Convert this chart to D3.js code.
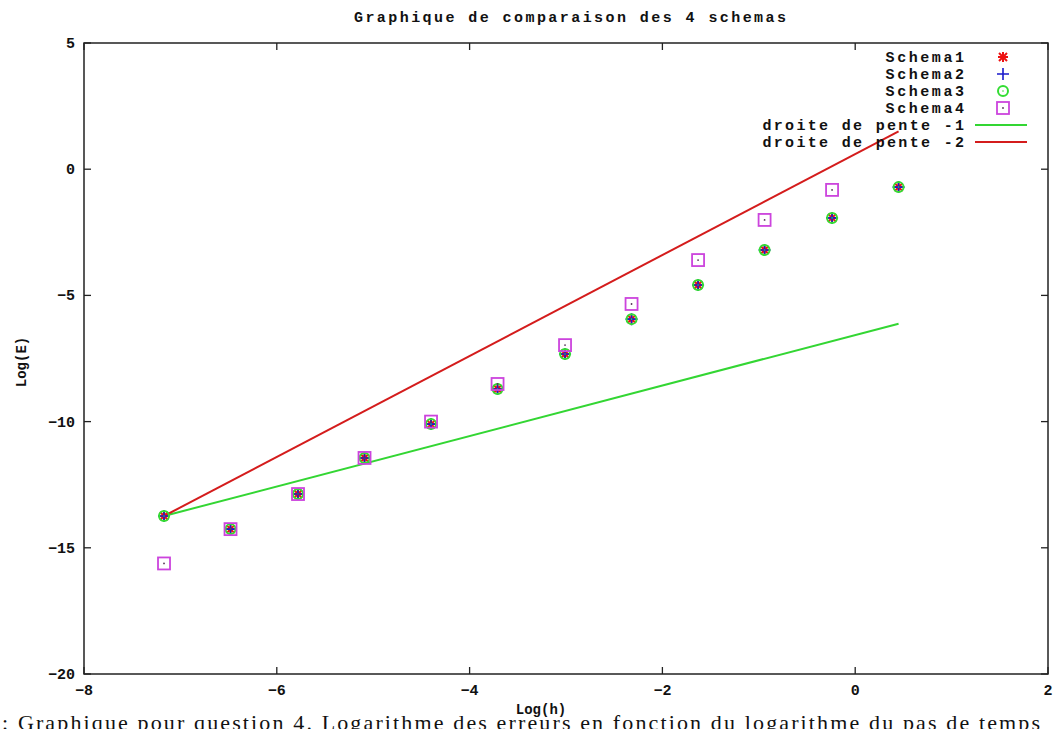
<!DOCTYPE html>
<html lang="fr">
<head>
  <meta charset="UTF-8">
  <title>Graphique de comparaison des 4 schemas</title>
  <style>
    body { margin: 0; background: #fff; }
    svg { display: block; }
    .mono { font-family: 'Liberation Mono', 'DejaVu Sans Mono', monospace; font-weight: bold; fill: #111; }
    .caption { font-family: 'Liberation Serif', 'DejaVu Serif', serif; fill: #111; }
  </style>
  <script src="https://d3js.org/d3.v7.min.js"></script>
</head>
<body>
  <svg id="chart" width="1055" height="729"></svg>
  <script>
    // log(h) for each run
    const logH = [-7.17, -6.48, -5.78, -5.09, -4.40, -3.71, -3.01, -2.32, -1.63, -0.94, -0.24, 0.45];
    // log(E)
    const schema1 = [-13.74, -14.26, -12.87, -11.44, -10.10, -8.71, -7.32, -5.94, -4.59, -3.20, -1.93, -0.71];
    const schema2 = [-13.74, -14.26, -12.87, -11.44, -10.10, -8.71, -7.32, -5.94, -4.59, -3.20, -1.93, -0.71];
    const schema3 = [-13.74, -14.26, -12.87, -11.44, -10.10, -8.71, -7.32, -5.94, -4.59, -3.20, -1.93, -0.71];
    const schema4 = [-15.62, -14.26, -12.87, -11.44, -10.00, -8.51, -6.97, -5.34, -3.60, -2.01, -0.82];
    // reference lines
    const lineX = [-7.17, 0.45];
    const pente1 = [-13.74, -6.12];
    const pente2 = [-13.74, 1.50];
    const xTicks = [-8, -6, -4, -2, 0, 2];
    const yTicks = [5, 0, -5, -10, -15, -20];

    const svg = d3.select("#chart");
    const pl = 84, pr = 1048, pt = 43, pb = 674;
    const x = d3.scaleLinear().domain([-8, 2]).range([pl, pr]);
    const y = d3.scaleLinear().domain([-20, 5]).range([pb, pt]);

    // title
    svg.append("text").attr("class", "mono")
      .attr("x", 570).attr("y", 22).attr("text-anchor", "middle")
      .attr("font-size", 15).attr("textLength", 432).attr("lengthAdjust", "spacing")
      .text("Graphique de comparaison des 4 schemas");

    // ticks, gnuplot style: inside, mirrored
    const tk = 7;
    const g = svg.append("g").attr("stroke", "#222").attr("stroke-width", 1.3);
    xTicks.forEach(v => {
      g.append("line").attr("x1", x(v)).attr("x2", x(v)).attr("y1", pb).attr("y2", pb - tk);
      g.append("line").attr("x1", x(v)).attr("x2", x(v)).attr("y1", pt).attr("y2", pt + tk);
    });
    yTicks.forEach(v => {
      g.append("line").attr("x1", pl).attr("x2", pl + tk).attr("y1", y(v)).attr("y2", y(v));
      g.append("line").attr("x1", pr).attr("x2", pr - tk).attr("y1", y(v)).attr("y2", y(v));
    });

    svg.selectAll(".xt").data(xTicks).enter().append("text").attr("class", "mono")
      .attr("x", d => x(d)).attr("y", 695).attr("text-anchor", "middle").attr("font-size", 15)
      .text(d => d < 0 ? "\u2212" + (-d) : d);
    svg.selectAll(".yt").data(yTicks).enter().append("text").attr("class", "mono")
      .attr("x", 75).attr("y", d => y(d) + 5).attr("text-anchor", "end").attr("font-size", 15)
      .text(d => d < 0 ? "\u2212" + (-d) : d);

    // axis titles
    svg.append("text").attr("class", "mono").attr("font-size", 14)
      .attr("transform", "translate(26,362) rotate(-90)").attr("text-anchor", "middle")
      .text("Log(E)");
    svg.append("text").attr("class", "mono").attr("font-size", 14)
      .attr("x", 541).attr("y", 714).attr("text-anchor", "middle")
      .text("Log(h)");

    // reference lines
    const line = d3.line().x(d => x(d[0])).y(d => y(d[1]));
    svg.append("path").datum(d3.zip(lineX, pente1)).attr("d", line)
      .attr("fill", "none").attr("stroke", "#33d633").attr("stroke-width", 2);
    svg.append("path").datum(d3.zip(lineX, pente2)).attr("d", line)
      .attr("fill", "none").attr("stroke", "#d41c1c").attr("stroke-width", 2);

    // marker shapes
    function star(sel, cx, cy) {
      const r = 5, c = "#ee1111";
      sel.append("path").attr("stroke", c).attr("stroke-width", 2)
        .attr("d", `M${cx - r},${cy}H${cx + r}M${cx},${cy - r}V${cy + r}M${cx - 4},${cy - 4}L${cx + 4},${cy + 4}M${cx - 4},${cy + 4}L${cx + 4},${cy - 4}`);
    }
    function plus(sel, cx, cy) {
      const r = 6;
      sel.append("path").attr("stroke", "#1a1acc").attr("stroke-width", 1.6)
        .attr("d", `M${cx - r},${cy}H${cx + r}M${cx},${cy - r}V${cy + r}`);
    }
    function circ(sel, cx, cy) {
      sel.append("circle").attr("cx", cx).attr("cy", cy).attr("r", 5)
        .attr("fill", "none").attr("stroke", "#33dd33").attr("stroke-width", 2);
      sel.append("circle").attr("cx", cx).attr("cy", cy).attr("r", 0.8).attr("fill", "#33dd33");
    }
    function square(sel, cx, cy) {
      sel.append("rect").attr("x", cx - 6).attr("y", cy - 6).attr("width", 12).attr("height", 12)
        .attr("fill", "none").attr("stroke", "#cc44dd").attr("stroke-width", 1.8);
      sel.append("circle").attr("cx", cx).attr("cy", cy).attr("r", 0.9).attr("fill", "#553355");
    }

    const marks = svg.append("g").attr("fill", "none");
    schema1.forEach((v, i) => star(marks, x(logH[i]), y(v)));
    schema2.forEach((v, i) => plus(marks, x(logH[i]), y(v)));
    schema3.forEach((v, i) => circ(marks, x(logH[i]), y(v)));
    schema4.forEach((v, i) => square(marks, x(logH[i]), y(v)));

    // legend
    const legend = [
      ["Schema1", star], ["Schema2", plus], ["Schema3", circ], ["Schema4", square],
      ["droite de pente -1", "#33d633"], ["droite de pente -2", "#d41c1c"]
    ];
    const legY = [57, 74, 91, 108, 125, 142];
    legend.forEach((d, i) => {
      svg.append("text").attr("class", "mono").attr("font-size", 15)
        .attr("x", 964).attr("y", legY[i] + 5).attr("text-anchor", "end")
        .attr("textLength", d[0].length * 11.2).attr("lengthAdjust", "spacing")
        .text(d[0]);
      if (typeof d[1] === "function") {
        d[1](svg, 1003, legY[i]);
      } else {
        svg.append("line").attr("x1", 975).attr("x2", 1027).attr("y1", legY[i]).attr("y2", legY[i])
          .attr("stroke", d[1]).attr("stroke-width", 2);
      }
    });

    // frame
    svg.append("rect").attr("x", pl).attr("y", pt).attr("width", pr - pl).attr("height", pb - pt)
      .attr("fill", "none").attr("stroke", "#222").attr("stroke-width", 1.5);

    // caption below the figure (cut by the page edge)
    svg.append("text").attr("class", "caption").attr("font-size", 22)
      .attr("x", 2).attr("y", 730).attr("textLength", 1038).attr("lengthAdjust", "spacing")
      .text(": Graphique pour question 4. Logarithme des erreurs en fonction du logarithme du pas de temps");
  </script>
</body>
</html>
